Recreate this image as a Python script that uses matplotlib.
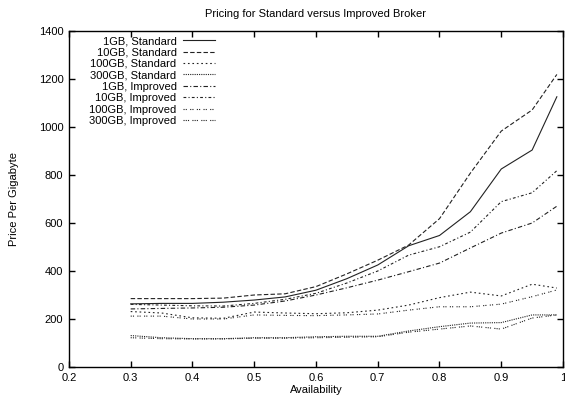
import matplotlib
matplotlib.use("Agg")
import matplotlib.pyplot as plt
from matplotlib.ticker import FuncFormatter, MultipleLocator

plt.rcParams['font.family'] = ['Liberation Sans', 'DejaVu Sans']
plt.rcParams['font.size'] = 8

availability = [0.3, 0.35, 0.4, 0.45, 0.5, 0.55, 0.6, 0.65, 0.7, 0.75, 0.8, 0.85, 0.9, 0.95, 0.99]

std_1gb = [263, 265, 265, 270, 279, 292, 320, 368, 425, 505, 548, 647, 825, 904, 1126]
std_10gb = [285, 285, 285, 287, 300, 305, 335, 388, 445, 508, 618, 808, 983, 1071, 1219]
std_100gb = [231, 225, 205, 203, 229, 225, 222, 226, 237, 258, 289, 312, 296, 345, 329]
std_300gb = [131, 122, 118, 118, 122, 122, 126, 128, 128, 150, 168, 183, 185, 217, 217]
imp_1gb = [242, 244, 246, 249, 258, 275, 300, 330, 362, 397, 433, 496, 558, 600, 670]
imp_10gb = [261, 258, 255, 254, 265, 282, 307, 350, 400, 466, 501, 562, 689, 726, 818]
imp_100gb = [212, 212, 200, 200, 217, 215, 214, 217, 221, 237, 251, 251, 262, 293, 321]
imp_300gb = [122, 118, 117, 117, 120, 120, 122, 124, 126, 145, 158, 171, 158, 204, 217]

series = [
    ("1GB, Standard", std_1gb, "-"),
    ("10GB, Standard", std_10gb, (0, (4, 2))),
    ("100GB, Standard", std_100gb, (0, (1.5, 2.5))),
    ("300GB, Standard", std_300gb, (0, (1, 1))),
    ("1GB, Improved", imp_1gb, (0, (4, 2, 1, 2))),
    ("10GB, Improved", imp_10gb, (0, (2.5, 2, 1, 2))),
    ("100GB, Improved", imp_100gb, (0, (1, 1, 1, 3))),
    ("300GB, Improved", imp_300gb, (0, (1, 1, 1, 1, 1, 3))),
]

fig = plt.figure(figsize=(5.65, 4.0), dpi=100)
ax = fig.add_axes([0.122, 0.0825, 0.8745, 0.84])

for label, vals, ls in series:
    ax.plot(availability, vals, color="#222222", linestyle=ls, linewidth=0.8, label=label)

ax.set_xlim(0.2, 1.0)
ax.set_ylim(0, 1400)
ax.xaxis.set_major_locator(MultipleLocator(0.1))
ax.yaxis.set_major_locator(MultipleLocator(200))
ax.xaxis.set_major_formatter(FuncFormatter(lambda v, _: f"{v:g}"))
ax.tick_params(direction="in", length=4, width=1, top=True, right=True, labelsize=8, pad=4)
for sp in ax.spines.values():
    sp.set_linewidth(1)

ax.set_title("Pricing for Standard versus Improved Broker", fontsize=8, pad=10)
ax.set_xlabel("Availability", fontsize=8, labelpad=2)
ax.set_ylabel("Price Per Gigabyte", fontsize=8, labelpad=14)

leg = ax.legend(loc="upper right", bbox_to_anchor=(0.2955, 0.985), frameon=False,
                markerfirst=False, fontsize=8, labelspacing=0.13, handlelength=2.9,
                handletextpad=0.55, borderpad=0, borderaxespad=0)

fig.savefig("out.png", dpi=100)
